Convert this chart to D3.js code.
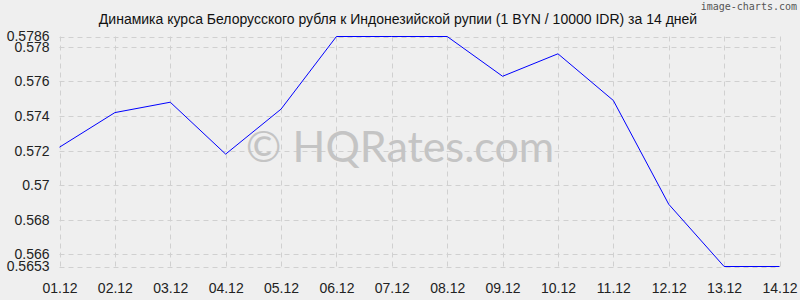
<html>
<head>
<meta charset="utf-8">
<script src="https://d3js.org/d3.v7.min.js"></script>
<style>
body { margin: 0; background: #efefef; }
svg text { font-family: "Liberation Sans", Arial, sans-serif; }
</style>
</head>
<body>
<div id="chart"></div>
<script>
// data
const dates = ["01.12","02.12","03.12","04.12","05.12","06.12","07.12","08.12","09.12","10.12","11.12","12.12","13.12","14.12"];
const rates = [0.5722, 0.5742, 0.5748, 0.5718, 0.5744, 0.5786, 0.5786, 0.5786, 0.5763, 0.5776, 0.5749, 0.5689, 0.5653, 0.5653];
const yTicks = [0.5653, 0.566, 0.568, 0.57, 0.572, 0.574, 0.576, 0.578, 0.5786];
const yMin = 0.5653, yMax = 0.5786;
const title = "Динамика курса Белорусского рубля к Индонезийской рупии (1 BYN / 10000 IDR) за 14 дней";

const w = 800, h = 300;
const padL = 59.5, padR = 779.5, padT = 36.5, padB = 266.5;

const svg = d3.select("#chart").append("svg")
  .attr("width", w)
  .attr("height", h);

svg.append("rect").attr("width", w).attr("height", h).attr("fill", "#efefef");

const x = d3.scalePoint().domain(dates).range([padL, padR]);
const y = d3.scaleLinear().domain([yMin, yMax]).range([padB, padT]);

// grid
svg.append("g").selectAll("line").data(yTicks).enter().append("line")
  .attr("x1", padL).attr("x2", padR)
  .attr("y1", d => Math.round(y(d)) + 0.5).attr("y2", d => Math.round(y(d)) + 0.5)
  .attr("stroke", "#d0d0d0").attr("stroke-dasharray", "5,4");
svg.append("g").selectAll("line").data(dates).enter().append("line")
  .attr("x1", d => Math.round(x(d)) + 0.5).attr("x2", d => Math.round(x(d)) + 0.5)
  .attr("y1", padT).attr("y2", padB)
  .attr("stroke", "#d0d0d0").attr("stroke-dasharray", "5,4");

// watermark
svg.append("text")
  .attr("x", 400).attr("y", 162)
  .attr("text-anchor", "middle")
  .attr("font-size", 43)
  .style("font-family", "Lato, sans-serif")
  .attr("fill", "#c4c4c4")
  .text("© HQRates.com");

// axes
const yAxis = d3.axisLeft(y).tickValues(yTicks).tickSize(0).tickPadding(10).tickFormat(d => String(d));
const ga = svg.append("g").attr("transform", `translate(${padL},0)`).call(yAxis);
ga.select(".domain").remove();
ga.selectAll("text").attr("font-size", 14).attr("fill", "#222").attr("font-family", null);

const xAxis = d3.axisBottom(x).tickSize(0).tickPadding(17);
const gx = svg.append("g").attr("transform", `translate(0,${padB})`).call(xAxis);
gx.select(".domain").remove();
gx.selectAll("text").attr("font-size", 14).attr("fill", "#222").attr("font-family", null);

// line
const line = d3.line().x((d, i) => x(dates[i])).y(d => y(d));
svg.append("path").datum(rates)
  .attr("d", line)
  .attr("fill", "none")
  .attr("stroke", "#0000ff")
  .attr("stroke-width", 1);

// title
svg.append("text")
  .attr("x", 398).attr("y", 24)
  .attr("text-anchor", "middle")
  .attr("font-size", 14)
  .attr("fill", "#111")
  .text(title);

svg.append("text")
  .attr("x", 797).attr("y", 10)
  .attr("text-anchor", "end")
  .attr("font-size", 10)
  .style("font-family", "DejaVu Sans Mono, monospace")
  .attr("fill", "#555")
  .text("image-charts.com");
</script>
</body>
</html>
